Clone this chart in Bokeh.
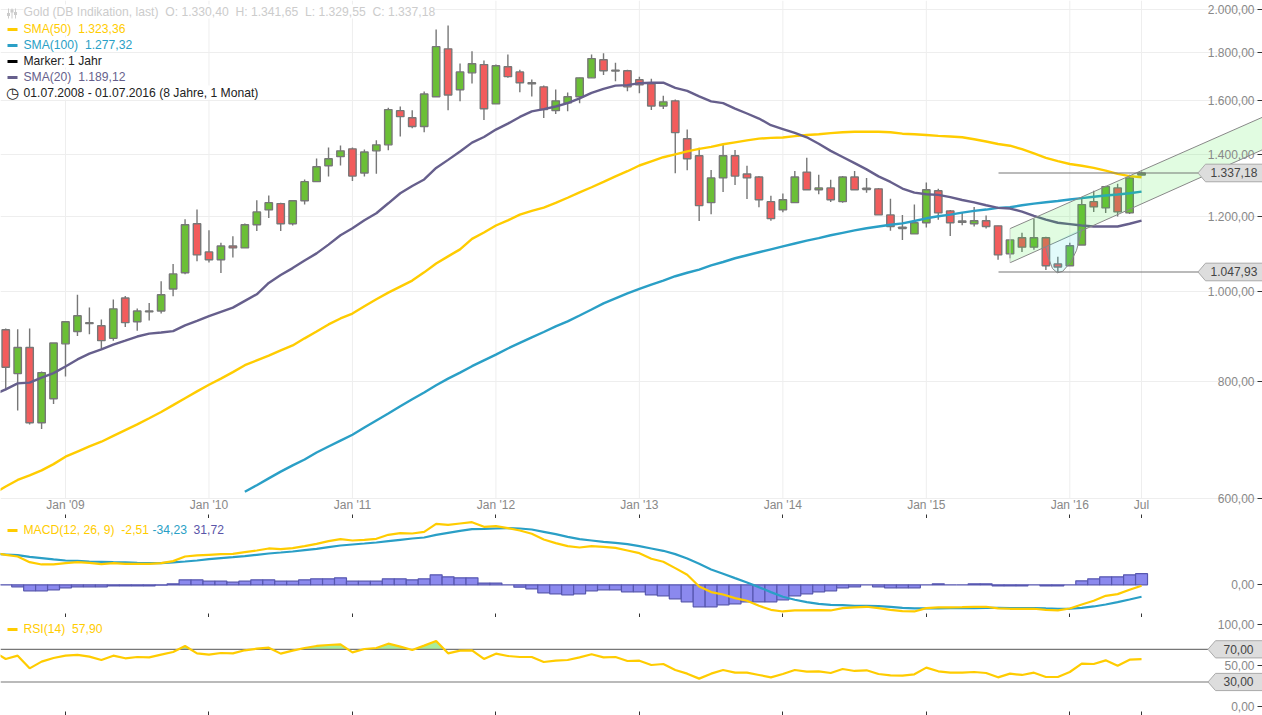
import math
import numpy as np
from bokeh.core.properties import value
from bokeh.embed import file_html
from bokeh.layouts import column
from bokeh.models import (BoxAnnotation, FixedTicker, Grid, Label, LinearAxis, LogAxis, Range1d)
from bokeh.plotting import figure
from bokeh.resources import INLINE

# ---------- data ----------
opens = [909,816,870,723,767,878,905,923,918,890,983,927,950,952,1005,1046,1180,1101,1080,1117,1112,1177,1221,1240,1180,
 1249,1309,1361,1392,1419,1337,1412,1433,1559,1532,1499,1613,1815,1641,1711,1746,1585,1737,1715,1665,1653,1559,1589,1613,1690,
 1767,1719,1720,1682,1665,1577,1597,1455,1395,1243,1321,1395,1334,1324,1246,1221,1243,1340,1283,1289,1246,1324,1288,1286,1206,
 1166,1151,1183,1280,1218,1184,1180,1189,1174,1096,1140,1114,1140,1069,1064,1120,1246,1227,1289,1212,1330.40]
highs = [912,910,912,820,880,928,991,960,932,979,988,958,971,1024,1069,1193,1222,1161,1126,1144,1181,1250,1265,1243,1250,
 1316,1386,1424,1431,1424,1417,1449,1570,1575,1560,1634,1904,1923,1751,1804,1764,1747,1790,1724,1683,1658,1642,1630,1690,1790,
 1795,1754,1724,1695,1686,1617,1602,1488,1423,1347,1433,1415,1361,1327,1264,1271,1344,1388,1331,1315,1327,1344,1321,1289,1255,
 1206,1237,1306,1286,1221,1215,1230,1204,1174,1135,1154,1195,1143,1088,1126,1258,1280,1296,1302,1331,1341.65]
lows = [783,745,720,712,757,810,895,899,867,885,915,907,930,946,987,1042,1076,1073,1045,1086,1112,1159,1197,1159,1175,
 1237,1309,1326,1362,1311,1326,1335,1414,1463,1493,1478,1613,1560,1595,1667,1523,1585,1690,1631,1614,1531,1546,1557,1588,1690,
 1702,1676,1635,1627,1561,1565,1336,1346,1188,1208,1276,1298,1254,1229,1189,1214,1243,1283,1269,1245,1243,1283,1274,1206,1160,
 1134,1151,1169,1192,1145,1176,1172,1166,1080,1084,1101,1107,1053,1048,1064,1120,1215,1212,1201,1209,1329.55]
closes = [829,870,723,818,880,927,941,925,885,957,925,952,952,991,1043,1177,1093,1080,1117,1112,1177,1215,1243,1180,1249,
 1309,1358,1385,1412,1327,1408,1433,1563,1536,1499,1624,1825,1620,1715,1750,1566,1741,1695,1670,1670,1563,1597,1613,1690,1772,
 1720,1722,1653,1661,1577,1593,1477,1385,1234,1321,1395,1327,1321,1252,1195,1252,1324,1283,1289,1252,1324,1283,1284,1206,1172,
 1170,1183,1283,1212,1183,1188,1189,1172,1093,1134,1114,1140,1064,1061,1118,1237,1230,1293,1215,1321,1337.18]

sma20 = [775,785,796.5,798,808,817,830.5,845,857,866,876.5,885,894,900.5,903,906,919,929,940,950,960,976,992,1020,1040,1058,
 1078,1097,1121,1147,1167,1190,1211,1241,1272,1295,1316,1354,1381,1410,1441,1461,1488,1510,1535,1556,1565,1575,1588,1607,1629,
 1645,1658,1660,1668,1670,1670,1649,1637,1615,1595,1588,1567,1548,1529,1504,1490,1476,1460,1437,1412,1391,1370,1349,1326,1308,
 1287,1274,1269,1267,1260,1251,1244,1235,1227,1225,1216,1203,1192,1183,1179,1175,1172,1172,1172,1180,1189.12]
sma50 = [607.4,618,628,635,643,653,665,673.5,682,690,700,710,720,731,742.5,755,768,781,794,806,819,833,843,853,864,874.5,
 890,905,921,934.6,946,963,980,996,1011,1026,1047,1070,1089,1108,1137,1155,1175,1190,1207,1218,1228,1242,1258,1275,1291,
 1308,1326,1343,1362,1376,1390,1400,1410,1419,1426,1435,1442,1449,1455,1458,1459,1464,1468,1471,1475,1478,1480,1480,1480,1478,
 1473,1471,1468,1465,1463,1460,1453,1445,1436,1430,1418,1403,1388,1377,1367,1361,1354,1345,1334,1327,1323.36]
sma100 = [610,620,630.5,641,651,660.5,672,682,692,702,714.5,727,739.5,753,766,779,793,806,818,831,843,855,868,880,892,904,
 916.5,928,941.5,955.5,970,982,994,1005,1016,1026,1037,1046,1054,1065,1074,1084,1092,1100,1108,1116,1124,1132,1139,1147,1154,
 1161,1167,1172,1177,1181,1188,1196,1202,1207,1213,1218,1222,1227,1229,1235,1240,1244,1248,1252.5,1257,1261,1265,1268,1272,1277.32]

macd = [91.4,85.7,80.9,64.7,58.1,58.1,61.9,64.7,62.8,59,61.9,60,60,60,61.9,67.6,80.9,83.8,85.7,87.6,88.5,93.3,98.1,103.8,101.9,
 104.7,110.4,117.1,124.7,130.4,126.6,128.5,131.4,142.8,147.6,146.6,151.4,174.2,171.4,175.2,179,165.6,167.6,161.8,155.2,145.7,
 129.5,119,110.4,106.6,110.4,108.5,105.7,98.1,90.4,74.3,65.7,47.6,28.6,-4.8,-20.9,-27.6,-38.1,-45.7,-60,-71.4,-76.2,-73.3,-73.3,
 -72.4,-73.3,-66.6,-64.7,-62.8,-66.6,-71.4,-75.2,-76.2,-66.6,-64.7,-64.7,-63.8,-62.8,-62.8,-67.6,-68.5,-68.5,-68.5,-71.4,-73.3,
 -67.6,-56.2,-45.7,-31.4,-26.7,-14.3,-2.51]
signal = [88.5,86.6,84.7,80,76.2,72.4,69.5,68.5,66.6,65.7,64.7,63.8,62.8,61.9,61.9,63.8,66.6,69.5,73.3,76.2,79,81.9,85.7,89.5,92.3,
 95.2,99,102.8,107.6,112.3,115.2,118,120.9,124.7,128.5,132.3,135.2,142.8,148.5,154.2,159,159.9,160.9,161.8,160.9,158,151.4,144.7,
 137.1,130.4,126.6,122.8,120,116.1,110.4,103.8,97.1,87.6,75.2,60,43.8,31.4,19,6.7,-6.7,-20.9,-34.3,-42.8,-49.5,-54.3,-57.1,-58.1,
 -60,-60,-60.9,-62.8,-65.7,-67.6,-67.6,-67.6,-66.6,-66.6,-66.6,-65.7,-65.7,-66.6,-66.6,-66.6,-67.6,-68.5,-68.5,-65.7,-61.9,-56.2,
 -49.5,-41.9,-34.23]
hist = [0,-0.5,-5.7,-17.1,-17.1,-14.3,-8.6,-5.7,-5.7,-5.7,-2.9,-2.9,-2.9,-2.9,-1,2.9,14.3,14.3,10.5,10.5,7.6,10.5,14.3,14.3,10.5,10.5,
 14.3,17.1,17.1,20,10.5,10.5,10.5,17.1,17.1,14.3,17.1,28.6,22.8,20,20,4.8,4.8,0,-6.7,-11.4,-22.8,-25.7,-28.6,-25.7,-17.1,-14.3,-14.3,
 -20,-20,-28.6,-31.4,-40,-48.5,-62.8,-62.8,-57.1,-54.3,-48.5,-48.5,-48.5,-42.8,-31.4,-25.7,-20,-17.1,-8.6,-5.7,0,-5.7,-8.6,-8.6,-8.6,
 0,2.9,0,0,2.9,2.9,-2.9,-2.9,-2.9,0,-2.9,-2.9,0,11.4,17.1,22.8,22.8,28.6,31.72]
rsi = [67,58.2,62.2,46.7,54.9,59.4,62.2,63.1,61,56.9,62.2,59,60.6,60.2,63.5,66.7,74.1,65.1,63.5,65.5,65.1,68.8,70.8,72,64.7,68.4,71.6,
 74.1,75.3,76.1,66.3,70.4,71.6,76.9,73.3,69.2,74.5,80.2,65.1,68.4,68.8,58.2,64.7,61.8,60.6,60.6,54.5,56.1,56.9,60.2,63.9,60.2,60.6,
 55.7,56.1,50.8,52,44.7,40.2,34.1,40.2,44.7,41.4,41.4,38.6,35.7,39.8,44.7,42.7,43.1,41,45.9,43.5,44.3,39.8,38.2,37.8,39.4,47.6,43.1,
 41.4,41.4,42.2,41,35.7,40.2,38.6,41.4,36.1,36.1,42.2,52.4,52,56.5,50,57.3,57.90]

x_tick_months = [5, 17, 29, 41, 53, 65, 77, 89, 95]
x_tick_labels = ["Jan '09", "Jan '10", "Jan '11", "Jan '12", "Jan '13", "Jan '14", "Jan '15", "Jan '16", "Jul"]
price_ticks = [600, 800, 1000, 1200, 1400, 1600, 1800, 2000]
price_tick_labels = ["600,00", "800,00", "1.000,00", "1.200,00", "1.400,00", "1.600,00", "1.800,00", "2.000,00"]

channel_x = [84, 105.12, 105.12, 84]
channel_y = [1166, 1534, 1416, 1072]
arc_x = [86.99, 87.2, 87.55, 87.95, 88.4, 89.06, 89.56, 89.9, 89.98]
arc_y = [1114.6, 1086, 1057, 1046, 1049.5, 1073, 1105, 1147, 1167]
price_levels = [1337.18, 1047.93]
price_level_labels = ["1.337,18", "1.047,93"]
rsi_levels = [70, 30]
rsi_level_labels = ["70,00", "30,00"]

# ---------- style ----------
W = 1262
H1, H2, H3 = 518, 99, 98
FONT = "Liberation Sans"
YEL, BLU, PUR = "#ffcc00", "#2a9fc6", "#665f8c"
GRAY, TICKTXT = "#777777", "#888888"
UP, DOWN = "#6bbf36", "#f25c5c"
PX_PER_MONTH = 11.956
X0 = 5.22
XS, XE = -X0 / PX_PER_MONTH, (W - X0) / PX_PER_MONTH
PX_LOG = 406.2          # pixels per natural-log unit of price
Y600 = 498              # row of the 600 line
NB = "\u00a0\u00a0"


def base(height, y_range, **kw):
    p = figure(width=W, height=height, x_range=Range1d(XS, XE), y_range=y_range, output_backend="svg",
               toolbar_location=None, x_axis_location=None, y_axis_location=None,
               min_border=0, outline_line_color=None, background_fill_color="white",
               border_fill_color="white", **kw)
    p.grid.visible = False
    return p


def xaxis(p, at, line_color, labels=False, standoff=2):
    ov = dict(zip(x_tick_months, x_tick_labels if labels else [""] * len(x_tick_months)))
    ax = LinearAxis(fixed_location=at, ticker=FixedTicker(ticks=x_tick_months),
                    major_label_overrides=ov, major_tick_in=0, major_tick_out=4, minor_tick_out=0,
                    major_tick_line_color="#333333", axis_line_color=line_color,
                    major_label_text_color=TICKTXT, major_label_text_font=FONT,
                    major_label_text_font_size="12px", major_label_standoff=standoff)
    p.add_layout(ax, "above")


def yaxis(p, ticks, labels, cls=LinearAxis):
    ax = cls(fixed_location=XE, ticker=FixedTicker(ticks=ticks),
             major_label_overrides=dict(zip(ticks, labels)), major_tick_in=0, major_tick_out=5, minor_tick_out=0,
             major_tick_line_color="#333333", axis_line_color=None, major_label_text_color=TICKTXT,
             major_label_text_font=FONT, major_label_text_font_size="12px", major_label_standoff=3,
             major_label_orientation="horizontal")
    p.add_layout(ax, "left")


def text(p, h, x, row, s, color):
    p.add_layout(Label(x=x, y=h - row + 1, x_units="screen", y_units="screen", text=s, text_color=color,
                       text_font=FONT, text_font_size="12.15px", text_baseline="middle",
                       background_fill_color="white", padding=0))


def dash(p, h, row, color, x0=7, x1=17, t=2):
    p.add_layout(BoxAnnotation(left=x0, right=x1, bottom=h - row - t / 2, top=h - row + t / 2,
                               left_units="screen", right_units="screen", top_units="screen", bottom_units="screen",
                               fill_color=color, fill_alpha=1, line_color=None, level="overlay"))


# ---------- price panel ----------
ptop = 600 * math.exp(Y600 / PX_LOG)
pbot = 600 * math.exp((Y600 - H1) / PX_LOG)
paxis = 600 * math.exp((Y600 - (H1 - 0.5)) / PX_LOG)
p1 = base(H1, Range1d(pbot, ptop), y_axis_type="log")
p1.add_layout(Grid(dimension=1, ticker=FixedTicker(ticks=price_ticks), grid_line_color="#eeeeee", grid_line_width=1))
p1.segment(x0=x_tick_months, x1=x_tick_months, y0=[600] * 9, y1=[ptop] * 9, line_color="#eeeeee", level="underlay")

idx = np.arange(len(opens))
o, h, l, c = map(np.array, (opens, highs, lows, closes))
up = c >= o
p1.segment(idx, l, idx, h, line_color=GRAY, line_width=1.4)
p1.vbar(idx, 0.62, np.maximum(o, c), np.minimum(o, c), fill_color=[UP if u else DOWN for u in up],
        line_color=GRAY, line_width=1.4)

p1.line(np.arange(-1, 96), sma50, line_color=YEL, line_width=2.4)
p1.line(np.arange(20, 96), sma100, line_color=BLU, line_width=2.4)
p1.line(np.arange(-1, 96), sma20, line_color=PUR, line_width=2.4)

p1.patch(channel_x, channel_y, fill_color="#33ee33", fill_alpha=0.15, line_color=None)
p1.line(channel_x[:2], channel_y[:2], line_color="#888888", line_width=1)
p1.line(channel_x[3:1:-1], channel_y[3:1:-1], line_color="#888888", line_width=1)
p1.line(channel_x[0::3], [channel_y[0], channel_y[3]], line_color="#cccccc", line_width=1)
p1.patch(arc_x, arc_y, fill_color="#33dddd", fill_alpha=0.15, line_color=None)
p1.line(arc_x, arc_y, line_color="#888888", line_width=1)

TIP, BODY = (1197.5 - X0) / PX_PER_MONTH, (1205 - X0) / PX_PER_MONTH
r = math.exp(8.8 / PX_LOG)
LINE_START = (998 - X0) / PX_PER_MONTH
for v, s in zip(price_levels, price_level_labels):
    p1.line([LINE_START, TIP], [v, v], line_color=GRAY, line_width=1.2)
    p1.patch([TIP, BODY, XE, XE, BODY], [v, v * r, v * r, v / r, v / r], fill_color="#dddddd",
             line_color="#aaaaaa", line_width=1)
    p1.text([XE - 5.2 / PX_PER_MONTH], [v], [s], text_color="#444444", text_font=value(FONT), text_font_size="12px",
            text_align="right", text_baseline="middle")

xaxis(p1, paxis, GRAY, labels=True)
yaxis(p1, price_ticks, price_tick_labels, LogAxis)

text(p1, H1, 23, 12, NB.join(["Gold (DB Indikation, last)", "O: 1.330,40", "H: 1.341,65", "L: 1.329,55", "C: 1.337,18"]), "#cccccc")
text(p1, H1, 23, 29, "SMA(50)" + NB + "1.323,36", YEL)
text(p1, H1, 23, 45, "SMA(100)" + NB + "1.277,32", BLU)
text(p1, H1, 23, 61, "Marker: 1 Jahr", "#222222")
text(p1, H1, 23, 77, "SMA(20)" + NB + "1.189,12", PUR)
text(p1, H1, 23, 93, "01.07.2008 - 01.07.2016 (8 Jahre, 1 Monat)", "#222222")
for row, col in ((29, YEL), (45, BLU), (61, "#000000"), (77, PUR)):
    dash(p1, H1, row, col, t=3)
for cx, cy in ((8, 14), (11.5, 10.5), (15, 13)):
    p1.add_layout(BoxAnnotation(left=cx - 0.5, right=cx + 0.5, bottom=H1 - 18, top=H1 - 8, left_units="screen",
                                right_units="screen", top_units="screen", bottom_units="screen",
                                fill_color="#cccccc", fill_alpha=1, line_color=None, level="overlay"))
    p1.add_layout(BoxAnnotation(left=cx - 1.5, right=cx + 1.5, bottom=H1 - cy - 1.5, top=H1 - cy + 1.5, left_units="screen",
                                right_units="screen", top_units="screen", bottom_units="screen",
                                fill_color="#cccccc", fill_alpha=1, line_color=None, level="overlay"))
p1.add_layout(Label(x=12, y=H1 - 92.5, x_units="screen", y_units="screen", text="\u25f7", text_color="#222222",
                    text_font="DejaVu Sans", text_font_size="15px", text_baseline="middle", text_align="center"))

# ---------- MACD panel ----------
PX_MACD = 0.35
Z_MACD = 66.3
p2 = base(H2, Range1d((Z_MACD - H2) / PX_MACD, Z_MACD / PX_MACD))
hv = np.array(hist)
hx = np.arange(-1, 96)
p2.quad(left=hx - 0.5, right=hx + 0.5, top=np.maximum(hv, 0), bottom=np.minimum(hv, 0), fill_color="#8b89ee",
        line_color="#5757b0", line_width=1.2)
p2.line(hx, signal, line_color=BLU, line_width=2.2)
p2.line(hx, macd, line_color=YEL, line_width=2.2)
xaxis(p2, (Z_MACD - H2 + 0.5) / PX_MACD, GRAY)
yaxis(p2, [0], ["0,00"])
text(p2, H2, 23, 12, "MACD(12, 26, 9)" + NB + "-2,51", YEL)
text(p2, H2, 152, 12, "-34,23", BLU)
text(p2, H2, 193, 12, "31,72", "#5a55a8")
dash(p2, H2, 12, YEL, t=3)

# ---------- RSI panel ----------
PX_RSI = 0.817
Z_RSI = 89
p3 = base(H3, Range1d((Z_RSI - H3) / PX_RSI, Z_RSI / PX_RSI))
rx = np.arange(-1, 96, dtype=float)
rv = np.array(rsi, dtype=float)
fx, fy = [], []
for i in range(len(rv)):
    if i and (rv[i - 1] - 70) * (rv[i] - 70) < 0:
        fx.append(rx[i - 1] + (70 - rv[i - 1]) / (rv[i] - rv[i - 1]))
        fy.append(70.0)
    fx.append(rx[i])
    fy.append(max(rv[i], 70.0))
p3.varea(fx, [70.0] * len(fx), fy, fill_color="#a8ec9c", fill_alpha=1)

TIP3, BODY3 = (1207.5 - X0) / PX_PER_MONTH, (1215 - X0) / PX_PER_MONTH
dv = 8.6 / PX_RSI
for v, s in zip(rsi_levels, rsi_level_labels):
    p3.line([XS, TIP3], [v, v], line_color=GRAY, line_width=1.2)
    p3.patch([TIP3, BODY3, XE, XE, BODY3], [v, v + dv, v + dv, v - dv, v - dv], fill_color="#dddddd",
             line_color="#aaaaaa", line_width=1)
    p3.text([XE - 9 / PX_PER_MONTH], [v], [s], text_color="#444444", text_font=value(FONT), text_font_size="12px",
            text_align="right", text_baseline="middle")
p3.line(rx, rv, line_color=YEL, line_width=2.2)
xaxis(p3, (Z_RSI - H3 + 0.2) / PX_RSI, None)
yaxis(p3, [0, 50, 100], ["0,00", "50,00", "100,00"])
text(p3, H3, 23, 12, "RSI(14)" + NB + "57,90", YEL)
dash(p3, H3, 12, YEL, t=3)

page = column(p1, p2, p3, spacing=0)
open("out.html", "w").write(file_html(page, INLINE))
